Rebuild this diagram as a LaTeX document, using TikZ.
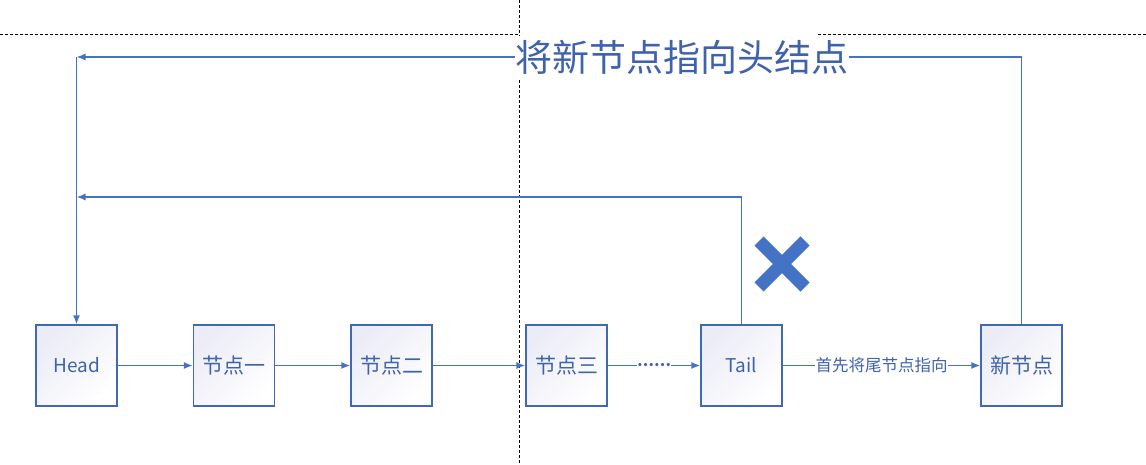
\documentclass[tikz,border=0pt]{standalone}
\usepackage{fontspec}
\setmainfont{Noto Sans CJK SC}
\usetikzlibrary{arrows.meta}
\definecolor{lineblue}{HTML}{4472C4}
\definecolor{boxblue}{HTML}{4168B5}
\definecolor{txtblue}{HTML}{3F62AD}
\definecolor{boxtop}{HTML}{EBECF6}
\tikzset{
  lnode/.style={draw=boxblue, line width=1.4pt, minimum width=81pt, minimum height=81pt,
    inner sep=0pt, top color=boxtop, bottom color=white, shading angle=45,
    text=txtblue, font=\fontsize{19}{19}\selectfont},
  cnode/.style={lnode, font=\fontsize{21}{21}\selectfont},
  conn/.style={draw=lineblue, line width=1.4pt},
  arr/.style={conn, -{Latex[length=9pt,width=7pt]}},
  lbl/.style={fill=white, inner sep=0.5pt, text=txtblue},
  guide/.style={draw=black, line width=0.9pt, dash pattern=on 3pt off 2pt}
}
\begin{document}
\begin{tikzpicture}[x=1pt,y=-1pt]
\useasboundingbox (0,0) rectangle (1146,464);
% guide lines
\draw[guide] (0,34) -- (519,34);
\draw[guide] (818,34) -- (1146,34);
\draw[guide] (519,0) -- (519,36);
\draw[guide] (519,80) -- (519,464);
% nodes
\node[lnode] (head) at (76.5,365.5) {Head};
\node[cnode] (n1) at (234,365.5) {节点一};
\node[cnode] (n2) at (391.5,365.5) {节点二};
\node[cnode] (n3) at (566.5,365.5) {节点三};
\node[lnode] (tail) at (741.5,365.5) {Tail};
\node[cnode] (new) at (1021.5,365.5) {新节点};
\node[text=txtblue, font=\fontsize{37}{37}\selectfont, inner sep=0pt] (title) at (682,57) {将新节点指向头结点};
\coordinate (c1) at (76.5,197);
\coordinate (c2) at (76.5,57);
% connectors
\draw[arr] (head) -- (n1);
\draw[arr] (n1) -- (n2);
\draw[arr] (n2) -- (n3);
\draw[arr] (n3) -- node[lbl, font=\fontsize{15}{15}\selectfont\bfseries] {……} (tail);
\draw[arr] (tail) -- node[lbl, font=\fontsize{16.5}{16.5}\selectfont] {首先将尾节点指向} (new);
\draw[arr] (tail.north) |- (c1);
\draw[conn] (new.north) |- (title.east);
\draw[arr] (title.west) -- (c2);
\draw[arr] (c2) -- (head.north);
% cross mark
\draw[lineblue, line width=13pt] (759,241) -- (805,287);
\draw[lineblue, line width=13pt] (805,241) -- (759,287);
\end{tikzpicture}
\end{document}
